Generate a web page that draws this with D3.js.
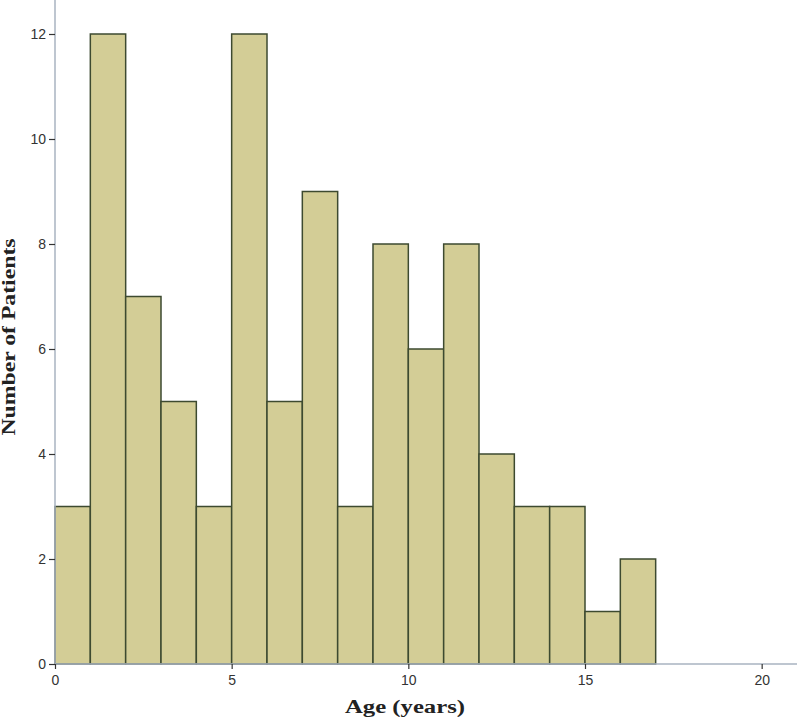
<!DOCTYPE html>
<html>
<head>
<meta charset="utf-8">
<script src="https://cdn.jsdelivr.net/npm/d3@7"></script>
<style>
  body { margin: 0; background: #fff; }
  svg { display: block; }
</style>
</head>
<body>
<div id="chart"></div>
<script>
// histogram bins of width 1 year, starting at 0
const binStarts = [0, 1, 2, 3, 4, 5, 6, 7, 8, 9, 10, 11, 12, 13, 14, 15, 16];
const counts = [3, 12, 7, 5, 3, 12, 5, 9, 3, 8, 6, 8, 4, 3, 3, 1, 2];
const xTicks = [0, 5, 10, 15, 20];
const yTicks = [0, 2, 4, 6, 8, 10, 12];

const width = 800, height = 723;
const margin = { top: 0, right: 3, bottom: 59, left: 55 };

const svg = d3.select("#chart").append("svg")
    .attr("width", width)
    .attr("height", height);

const x = d3.scaleLinear().domain([0, 21]).range([margin.left, width - margin.right]);
const y = d3.scaleLinear().domain([0, 12]).range([height - margin.bottom, 34]);
const y0 = y(0);

// bars
svg.append("g").selectAll("rect").data(binStarts).enter().append("rect")
    .attr("x", d => x(d))
    .attr("y", (d, i) => y(counts[i]))
    .attr("width", d => x(d + 1) - x(d))
    .attr("height", (d, i) => y0 - y(counts[i]))
    .attr("fill", "#d3cd96")
    .attr("stroke", "#3d4a30")
    .attr("stroke-width", 1.5);

// axis lines
svg.append("line")
    .attr("x1", x(0)).attr("x2", x(0))
    .attr("y1", 0).attr("y2", y0)
    .attr("stroke", "#a9b3c0").attr("stroke-width", 1.5);
svg.append("line")
    .attr("x1", x(0)).attr("x2", width - margin.right)
    .attr("y1", y0).attr("y2", y0)
    .attr("stroke", "#a9b3c0").attr("stroke-width", 1.5);

const xAxis = svg.append("g")
    .attr("transform", `translate(0,${y0})`)
    .call(d3.axisBottom(x).tickValues(xTicks).tickSize(5).tickPadding(6));
const yAxis = svg.append("g")
    .attr("transform", `translate(${x(0)},0)`)
    .call(d3.axisLeft(y).tickValues(yTicks).tickSize(6).tickPadding(3));

[xAxis, yAxis].forEach(g => {
    g.select(".domain").remove();
    g.selectAll(".tick line").attr("stroke", "#333").attr("stroke-width", 1.2);
    g.selectAll(".tick text")
        .attr("fill", "#333")
        .style("font-family", "Arial, 'Liberation Sans', sans-serif")
        .style("font-size", "14px");
});

svg.append("text")
    .attr("x", 405)
    .attr("y", 713)
    .attr("text-anchor", "middle")
    .attr("textLength", 120)
    .attr("lengthAdjust", "spacingAndGlyphs")
    .style("font-family", "'Liberation Serif', 'Times New Roman', serif")
    .style("font-weight", "bold")
    .style("font-size", "18px")
    .attr("fill", "#222")
    .text("Age (years)");

svg.append("text")
    .attr("transform", `translate(15,${337}) rotate(-90)`)
    .attr("text-anchor", "middle")
    .attr("textLength", 197)
    .attr("lengthAdjust", "spacingAndGlyphs")
    .style("font-family", "'Liberation Serif', 'Times New Roman', serif")
    .style("font-weight", "bold")
    .style("font-size", "18px")
    .attr("fill", "#222")
    .text("Number of Patients");
</script>
</body>
</html>
